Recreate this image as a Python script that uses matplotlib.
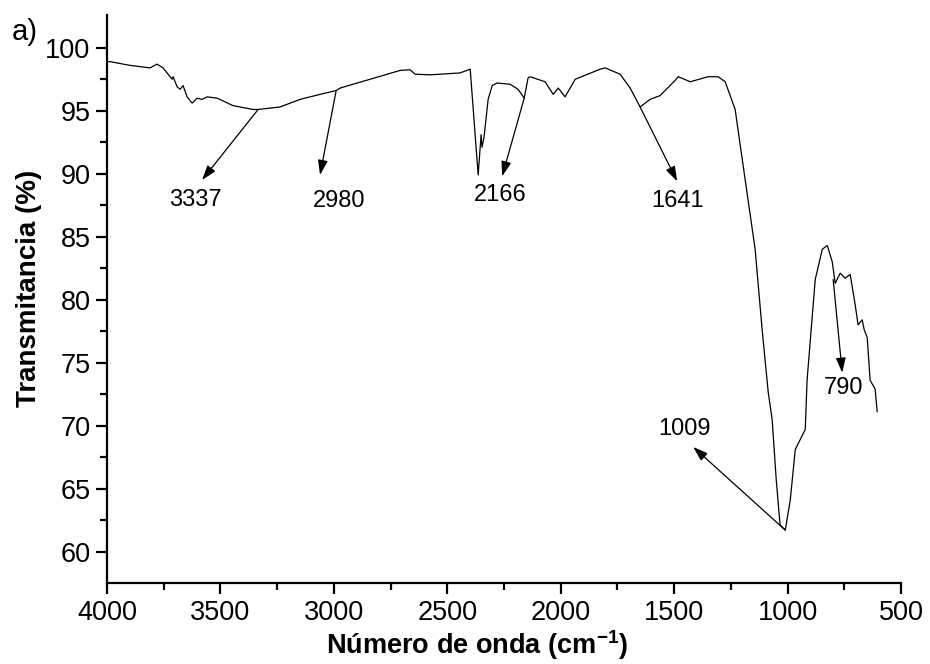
import matplotlib
matplotlib.use("Agg")
import matplotlib.pyplot as plt

plt.rcParams['font.family'] = ['Liberation Sans', 'DejaVu Sans']
plt.rcParams['mathtext.fontset'] = 'custom'
plt.rcParams['mathtext.rm'] = 'Liberation Sans'
plt.rcParams['mathtext.bf'] = 'Liberation Sans:bold'

# FTIR spectrum (wavenumber in cm-1, transmittance in %)
wavenumber = [4000, 3987, 3899, 3810, 3780, 3753, 3731, 3713, 3709, 3691,
              3678, 3665, 3647, 3625, 3603, 3581, 3559, 3515, 3444, 3356,
              3334, 3237, 3149, 3061, 2990, 2973, 2840,
              2708, 2664, 2642, 2576, 2444, 2399, 2364, 2351, 2347, 2338,
              2320, 2302, 2280, 2223, 2188, 2161, 2144, 2135, 2069, 2033,
              2011, 1981, 1936, 1826, 1804, 1738, 1694, 1650, 1606, 1562,
              1496, 1482, 1429, 1350, 1306, 1275, 1231, 1209, 1174, 1143,
              1112, 1085, 1068, 1050, 1033, 1010, 988, 966, 922, 914,
              878, 847, 825, 803, 790, 768, 746, 724, 702, 689,
              671, 662, 649, 636, 614, 605]
transmittance = [98.9, 98.9, 98.6, 98.4, 98.7, 98.4, 97.9, 97.5, 97.7, 96.9,
                 96.7, 97.0, 96.1, 95.6, 96.0, 95.9, 96.1, 96.0, 95.4, 95.1,
                 95.1, 95.3, 95.9, 96.3, 96.6, 96.8, 97.5,
                 98.2, 98.25, 97.9, 97.85, 98.0, 98.3, 89.9, 93.1, 92.1, 92.9,
                 95.9, 97.0, 97.2, 97.1, 96.7, 96.0, 97.6, 97.7, 97.3, 96.3,
                 96.8, 96.1, 97.5, 98.3, 98.4, 97.9, 96.8, 95.3, 95.9, 96.2,
                 97.4, 97.7, 97.3, 97.7, 97.7, 97.3, 95.1, 92.3, 87.9, 84.0,
                 77.6, 72.6, 70.5, 65.7, 62.1, 61.7, 64.1, 68.1, 69.7, 73.6,
                 81.6, 84.0, 84.3, 83.0, 81.3, 82.1, 81.7, 82.0, 79.6, 78.0,
                 78.4, 77.6, 77.0, 73.6, 72.9, 71.1]

# labelled bands: (label, point on curve, arrow head, text centre)
peak_labels = ['3337', '2980', '2166', '1641', '1009', '790']
peak_points = [(3334, 95.1), (2990, 96.6), (2161, 96.0), (1650, 95.3), (1010, 61.7), (799, 81.6)]
arrow_heads = [(3581, 89.5), (3061, 89.9), (2258, 89.8), (1487, 89.4), (1416, 68.3), (759, 74.2)]
label_pos = [(3612, 87.9), (2977, 87.8), (2267, 88.3), (1487, 87.8), (1456, 69.7), (755, 73.0)]

fig = plt.figure(figsize=(9.3, 6.64), dpi=100)
ax = fig.add_axes([0.1151, 0.122, 0.8537, 0.8554])

ax.plot(wavenumber, transmittance, color='black', lw=0.9)

for lab, pt, head, tp in zip(peak_labels, peak_points, arrow_heads, label_pos):
    ax.annotate('', xy=head, xytext=pt,
                arrowprops=dict(arrowstyle='-|>,head_length=0.9,head_width=0.3',
                                color='black', lw=0.9, shrinkA=0, shrinkB=0))
    ax.text(tp[0], tp[1], lab, fontsize=17, ha='center', va='center')

ax.set_xlim(4000, 500)
ax.set_ylim(57.5, 102.6)
ax.set_xticks([4000, 3500, 3000, 2500, 2000, 1500, 1000, 500])
ax.set_xticks([3750, 3250, 2750, 2250, 1750, 1250, 750], minor=True)
ax.set_yticks([60, 65, 70, 75, 80, 85, 90, 95, 100])
ax.set_yticks([62.5, 67.5, 72.5, 77.5, 82.5, 87.5, 92.5, 97.5], minor=True)

for side in ['top', 'right']:
    ax.spines[side].set_visible(False)
for side in ['left', 'bottom']:
    ax.spines[side].set_linewidth(1.6)

ax.tick_params(which='major', direction='out', length=8, width=1.6, labelsize=19.5, pad=4)
ax.tick_params(which='minor', direction='out', length=5, width=1.6)

ax.set_xlabel(r'Número de onda (cm$^{\mathbf{-1}}$)', fontsize=19.5, fontweight='bold')
ax.set_ylabel('Transmitancia (%)', fontsize=20, fontweight='bold')
ax.xaxis.set_label_coords(0.466, -0.079)
ax.yaxis.set_label_coords(-0.082, 0.518)

fig.text(0.013, 0.94, 'a)', fontsize=21, va='baseline')

fig.savefig('out.png', dpi=100)
